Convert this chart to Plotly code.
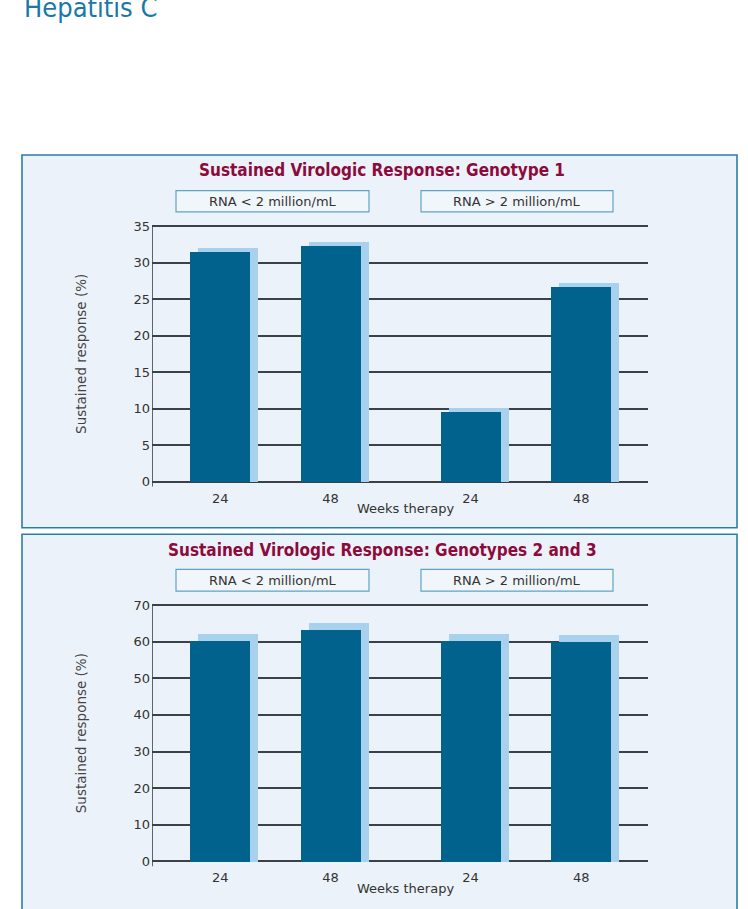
import plotly.graph_objects as go

# ---------------- data ----------------
week_labels = ["24", "48", "24", "48"]
group_labels = ["RNA < 2 million/mL", "RNA > 2 million/mL"]
panel_titles = ["Sustained Virologic Response: Genotype 1",
                "Sustained Virologic Response: Genotypes 2 and 3"]
genotype1 = [31.5, 32.3, 9.6, 26.7]
genotype23 = [60.4, 63.3, 60.4, 60.1]
y_ticks_g1 = [0, 5, 10, 15, 20, 25, 30, 35]
y_ticks_g23 = [0, 10, 20, 30, 40, 50, 60, 70]
x_title = "Weeks therapy"
y_title = "Sustained response (%)"
page_title = "Hepatitis C"

# ---------------- style / layout ----------------
W, H = 748, 909
FONT = "DejaVu Sans"
DARK = "#00628d"
LIGHT = "#a8d1ee"
GRID = "#3b4247"
PANEL_FILL = "#ecf2f9"
PANEL_LINE = "#2b7ea8"
BOX_LINE = "#5fa3c6"
TITLE_COL = "#8c0a3c"
TEXT_COL = "#333333"

def px(x):
    return x / W

def py(y):
    return 1 - y / H

# bar centre positions (axis units) and widths
XR = [0, 4.5]
UNIT = 496 / 4.5           # px per x unit
POS = [0.62, 1.62, 2.89, 3.895]
BW = 60 / UNIT
SHX = 8 / UNIT

panels = [
    dict(vals=genotype1, ticks=y_ticks_g1, top=35, y0=480.5, y35=222.3, shadow_dy=4.3,
         box=(22, 150.5, 737, 527), title_y=166, leg=(186.5, 208), xlab_y=497, xt_y=508),
    dict(vals=genotype23, ticks=y_ticks_g23, top=70, y0=864, y35=605, shadow_dy=7.2,
         box=(22, 533.5, 737, 930), title_y=549, leg=(569, 591), xlab_y=880, xt_y=891),
]

fig = go.Figure()
shapes = []
annotations = []

annotations.append(dict(text=page_title, x=px(22), y=py(19), xref="paper", yref="paper",
                        xanchor="left", yanchor="bottom", showarrow=False,
                        font=dict(family="DejaVu Sans Condensed", size=27, color="#1a78a8")))

for i, p in enumerate(panels):
    n = "" if i == 0 else str(i + 1)
    ppu = (p["y0"] - p["y35"]) / p["top"]
    ylo = -5 / ppu
    yhi = p["top"] + 1.5 / ppu
    dy = p["shadow_dy"] / ppu
    xa, ya = "x" + n, "y" + n

    # shadow bars (behind)
    fig.add_trace(go.Bar(x=[q + SHX for q in POS], y=[v + dy for v in p["vals"]],
                         width=BW, marker=dict(color=LIGHT, line=dict(width=0)),
                         xaxis=xa, yaxis=ya, showlegend=False, hoverinfo="skip"))
    fig.add_trace(go.Bar(x=POS, y=p["vals"], width=BW,
                         marker=dict(color=DARK, line=dict(width=0)),
                         xaxis=xa, yaxis=ya, showlegend=False))

    dom_x = [px(152), px(648)]
    dom_y = [py(p["y0"] + 5), py(p["y35"] - 1.5)]
    fig.update_layout(**{
        ("xaxis" + n): dict(domain=dom_x, range=XR, anchor=ya, showgrid=False,
                            zeroline=False, showline=False, tickmode="array",
                            tickvals=POS, ticktext=week_labels, ticks="",
                            ticklabelstandoff=2,
                            tickfont=dict(family=FONT, size=13, color=TEXT_COL)),
        ("yaxis" + n): dict(domain=dom_y, range=[ylo, yhi], anchor=xa,
                            tickmode="array", tickvals=p["ticks"], showgrid=True,
                            gridcolor=GRID, gridwidth=1.6, zeroline=False,
                            showline=False, ticks="", ticklabelstandoff=1,
                            tickfont=dict(family=FONT, size=13, color=TEXT_COL)),
    })
    # vertical axis line from top gridline to just below baseline
    shapes.append(dict(type="line", xref=xa, yref=ya, x0=0, x1=0, y0=ylo, y1=p["top"],
                       line=dict(color=GRID, width=1.6), layer="above"))

    bx0, by0, bx1, by1 = p["box"]
    shapes.append(dict(type="rect", xref="paper", yref="paper", layer="below",
                       x0=px(bx0), x1=px(bx1), y0=py(by1), y1=py(by0),
                       fillcolor=PANEL_FILL, line=dict(color=PANEL_LINE, width=1.6)))
    # legend boxes
    for (lx0, lx1), lab in zip([(176, 369), (421, 613)], group_labels):
        shapes.append(dict(type="rect", xref="paper", yref="paper", layer="below",
                           x0=px(lx0), x1=px(lx1), y0=py(p["leg"][1]), y1=py(p["leg"][0]),
                           fillcolor="#f1f6fb", line=dict(color=BOX_LINE, width=1.2)))
        annotations.append(dict(text=lab, x=px((lx0 + lx1) / 2),
                                y=py((p["leg"][0] + p["leg"][1]) / 2),
                                xref="paper", yref="paper", showarrow=False,
                                xanchor="center", yanchor="middle",
                                font=dict(family=FONT, size=13, color=TEXT_COL)))
    annotations.append(dict(text="<b>" + panel_titles[i] + "</b>", x=px(382), y=py(p["title_y"]),
                            xref="paper", yref="paper", showarrow=False,
                            xanchor="center", yanchor="middle",
                            font=dict(family="DejaVu Sans Condensed", size=17, color=TITLE_COL)))
    annotations.append(dict(text=x_title, x=px(405), y=py(p["xt_y"]),
                            xref="paper", yref="paper", showarrow=False,
                            xanchor="center", yanchor="middle",
                            font=dict(family=FONT, size=13, color=TEXT_COL)))
    annotations.append(dict(text=y_title, x=px(81), y=py((p["y0"] + p["y35"]) / 2),
                            xref="paper", yref="paper", showarrow=False, textangle=-90,
                            xanchor="center", yanchor="middle",
                            font=dict(family=FONT, size=13.5, color="#444444")))

fig.update_layout(width=W, height=H, margin=dict(l=0, r=0, t=0, b=0),
                  paper_bgcolor="white", plot_bgcolor="rgba(0,0,0,0)",
                  barmode="overlay", bargap=0, shapes=shapes, annotations=annotations,
                  showlegend=False)

fig.write_html("out.html")
